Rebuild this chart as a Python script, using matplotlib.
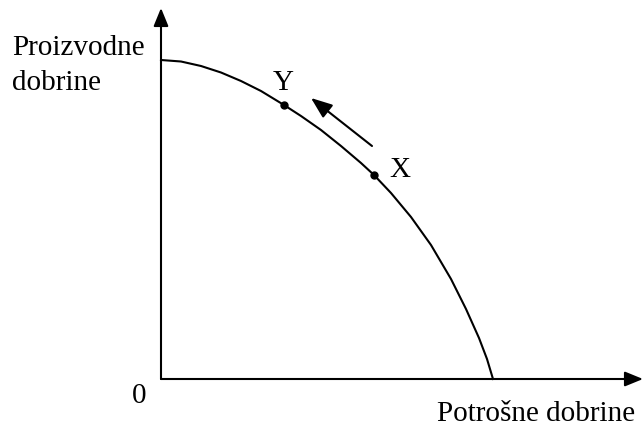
import matplotlib.pyplot as plt

plt.rcParams['font.family'] = ['Liberation Serif', 'DejaVu Serif']

# production possibility curve (consumer goods, producer goods)
curve_x = [0, 20, 40, 60, 80, 100, 123, 140, 160, 180, 200, 213, 230, 250, 270, 290, 305, 318, 326, 332]
curve_y = [319, 317.5, 313, 306.5, 298, 288, 274, 263, 249, 233, 216, 204, 186, 162, 134, 100, 70, 41, 20, 0]

points = ['Y', 'X']
points_x = [123, 213]
points_y = [274, 204]

x_label = 'Potrošne dobrine'
y_label = ['Proizvodne', 'dobrine']

fig = plt.figure(figsize=(6.43, 4.27), dpi=100)
ax = fig.add_axes([0, 0, 1, 1])
ax.set_xlim(-161, 482)
ax.set_ylim(-47, 380)
ax.axis('off')

# axes with arrow heads
axis_style = dict(arrowstyle='-|>,head_length=1.1,head_width=0.45', color='black', lw=1.5,
                  shrinkA=0, shrinkB=0)
ax.annotate('', xy=(482, 0), xytext=(0, 0), arrowprops=axis_style)
ax.annotate('', xy=(0, 371), xytext=(0, 0), arrowprops=axis_style)

ax.plot(curve_x, curve_y, color='black', lw=1.5, solid_joinstyle='round')
ax.plot(points_x, points_y, 'o', color='black', markersize=5)

fs = 21
ax.text(122, 290, points[0], fontsize=fs, ha='center', va='baseline')
ax.text(239, 203, points[1], fontsize=fs, ha='center', va='baseline')

# direction of movement from X to Y
ax.annotate('', xy=(150, 281), xytext=(211, 233),
            arrowprops=dict(arrowstyle='-|>,head_length=1.3,head_width=0.5', color='black',
                            lw=1.5, shrinkA=0, shrinkB=0))

ax.text(-22, -23, '0', fontsize=fs, ha='center', va='baseline')
ax.text(276, -41, x_label, fontsize=fs, ha='left', va='baseline')
ax.text(-149, 325, y_label[0], fontsize=fs, ha='left', va='baseline')
ax.text(-149, 290, y_label[1], fontsize=fs, ha='left', va='baseline')

fig.savefig('out.png', dpi=100)
